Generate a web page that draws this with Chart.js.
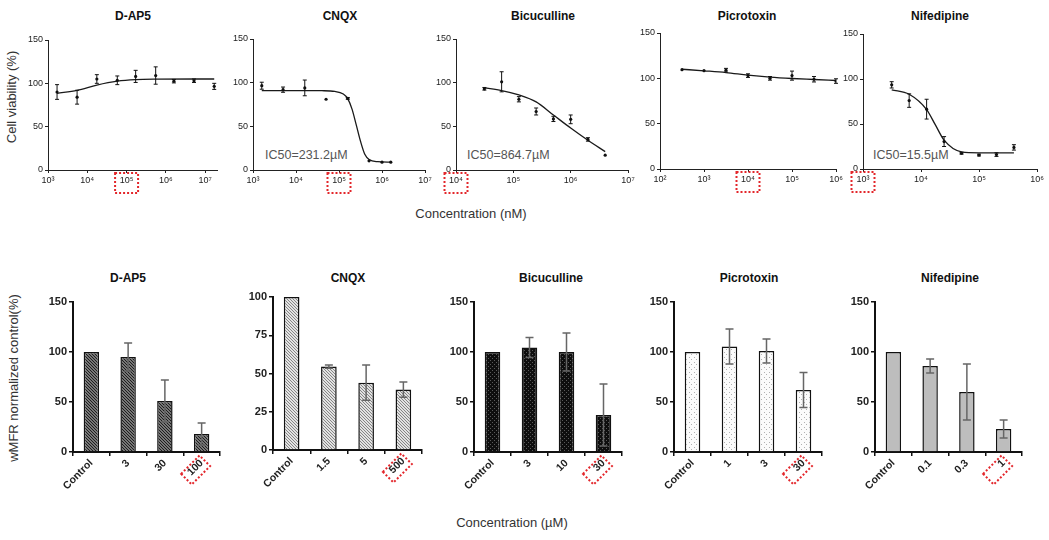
<!DOCTYPE html>
<html lang="en">
<head>
<meta charset="UTF-8">
<title>Cell viability and wMFR</title>
<script src="https://cdn.jsdelivr.net/npm/chart.js"></script>
<style>
  body { margin: 0; background: #fff; width: 1049px; height: 540px; overflow: hidden; position: relative;
         font-family: Arial, "Liberation Sans", sans-serif; }
  canvas { position: absolute; }
  .lbl { position: absolute; transform: translate(-50%, -50%); white-space: nowrap; color: #111; }
  .ttl { font-weight: bold; font-size: 12px; }
  .ax { font-size: 13px; color: #333; }
  .rot { transform: translate(-50%, -50%) rotate(-90deg); }
  .ic { position: absolute; transform: translateY(-50%); font-size: 12.5px; color: #555; white-space: nowrap; }
</style>
</head>
<body>
<!-- titles -->
<div class="lbl ttl" style="left:133px;top:16px">D-AP5</div>
<div class="lbl ttl" style="left:340px;top:16px">CNQX</div>
<div class="lbl ttl" style="left:543px;top:16px">Bicuculline</div>
<div class="lbl ttl" style="left:747px;top:16px">Picrotoxin</div>
<div class="lbl ttl" style="left:940px;top:16px">Nifedipine</div>
<div class="lbl ttl" style="left:128px;top:278px">D-AP5</div>
<div class="lbl ttl" style="left:348px;top:278px">CNQX</div>
<div class="lbl ttl" style="left:551px;top:278px">Bicuculline</div>
<div class="lbl ttl" style="left:749px;top:278px">Picrotoxin</div>
<div class="lbl ttl" style="left:950px;top:278px">Nifedipine</div>
<!-- axis titles -->
<div class="lbl ax rot" style="left:11px;top:97px">Cell viability (%)</div>
<div class="lbl ax" style="left:471px;top:213px">Concentration (nM)</div>
<div class="lbl ax rot" style="left:13px;top:378px">wMFR normalized control(%)</div>
<div class="lbl ax" style="left:512px;top:522px">Concentration (µM)</div>
<!-- IC50 -->
<div class="ic" style="left:265px;top:155px">IC50=231.2µM</div>
<div class="ic" style="left:467px;top:155px">IC50=864.7µM</div>
<div class="ic" style="left:873px;top:155px">IC50=15.5µM</div>

<script>
// ---- top row: cell viability vs concentration (nM) ----
const dap5Conc = [1700, 5500, 17500, 58000, 170000, 550000, 1600000, 5200000, 17000000];
const dap5Viab = [90, 84, 105, 103.5, 108, 109, 102.5, 103, 96.5];
const dap5Err = [8.5, 8, 5, 5, 7, 10, 2, 2, 3.5];
const dap5FitX = [1700, 5500, 17500, 58000, 170000, 550000, 17000000];
const dap5FitY = [88.5, 92, 98, 102.5, 104.3, 104.8, 105];

const cnqxConc = [1600, 5000, 16000, 50000, 160000, 500000, 1000000, 1600000];
const cnqxViab = [96.5, 92, 94, 81, 82, 10.5, 9, 9];
const cnqxErr = [4, 3, 9, 0, 1, 0, 0, 0];
const cnqxFitX = [1600, 10000, 40000, 80000, 126000, 158000, 200000, 251000, 316000, 398000, 501000, 794000, 1600000];
const cnqxFitY = [91, 91, 90.8, 90, 87, 82, 70, 52, 33, 18, 12, 9.5, 9];

const bicConc = [31250, 62500, 125000, 250000, 500000, 1000000, 2000000, 4000000];
const bicViab = [93, 101, 81, 67, 58.5, 58, 35, 17];
const bicErr = [1.5, 11.5, 3, 4, 3, 5, 2, 0];
const bicFitY = [94, 91, 86, 78, 63, 48, 34, 21];

const picConc = [316, 1000, 3160, 10000, 31600, 100000, 316000, 1000000];
const picViab = [109.5, 108.5, 109, 103, 100, 103, 99, 97];
const picErr = [0, 0, 2, 2, 2, 5, 3, 2.5];
const picFitY = [110, 108.3, 106.4, 103.5, 101.3, 99.8, 98.7, 97.6];

const nifConc = [3125, 6250, 12500, 25000, 50000, 100000, 200000, 400000];
const nifViab = [93.5, 76, 66.5, 30.5, 17.5, 15.5, 16, 24];
const nifErr = [3.5, 7.5, 11, 5.5, 1, 1, 2, 3];
const nifFitX = [3125, 6250, 12500, 17700, 25000, 50000, 100000, 200000, 400000];
const nifFitY = [88, 83, 66, 49, 32, 19, 18, 18, 18];

const viabTicks = [0, 50, 100, 150];

// ---- bottom row: wMFR normalized to control (%) vs concentration (µM) ----
const dap5Doses = ['Control', '3', '30', '100'];
const dap5Mfr = [100, 95, 51, 18];
const dap5MfrErr = [0, 14, 21, 11];

const cnqxDoses = ['Control', '1.5', '5', '500'];
const cnqxMfr = [100, 54.5, 44, 39.5];
const cnqxMfrErr = [0, 1, 11.5, 5];

const bicDoses = ['Control', '3', '10', '30'];
const bicMfr = [100, 104.5, 100, 37];
const bicMfrErr = [0, 10, 19, 31];

const picDoses = ['Control', '1', '3', '30'];
const picMfr = [100, 105.5, 101, 62];
const picMfrErr = [0, 17.5, 12, 17.5];

const nifDoses = ['Control', '0.1', '0.3', '1'];
const nifMfr = [100, 86, 60, 23];
const nifMfrErr = [0, 7, 28, 9];

Chart.defaults.font.family = 'Arial, "Liberation Sans", sans-serif';

const sup = { 2: '²', 3: '³', 4: '⁴', 5: '⁵', 6: '⁶', 7: '⁷' };

// error bars taken from dataset.errs
Chart.register({
  id: 'errBars',
  afterDatasetsDraw(chart, args, o) {
    const ds = chart.data.datasets[0];
    if (!ds.errs) return;
    const ctx = chart.ctx, ys = chart.scales.y, meta = chart.getDatasetMeta(0);
    ctx.save();
    ctx.strokeStyle = o.color || '#111';
    ctx.lineWidth = o.width || 1;
    meta.data.forEach((el, i) => {
      const e = ds.errs[i];
      if (!e) return;
      const v = typeof ds.data[i] === 'object' ? ds.data[i].y : ds.data[i];
      const y1 = ys.getPixelForValue(v + e), y2 = ys.getPixelForValue(v - e);
      const c = o.cap || 2;
      ctx.beginPath();
      ctx.moveTo(el.x, y1); ctx.lineTo(el.x, y2);
      ctx.moveTo(el.x - c, y1); ctx.lineTo(el.x + c, y1);
      ctx.moveTo(el.x - c, y2); ctx.lineTo(el.x + c, y2);
      ctx.stroke();
    });
    ctx.restore();
  }
});

// red dotted box round one tick label
Chart.register({
  id: 'markBox',
  afterDraw(chart, args, o) {
    if (o.at === undefined) return;
    const ctx = chart.ctx, b = chart.chartArea.bottom;
    const x = chart.scales.x.getPixelForValue(o.at);
    ctx.save();
    ctx.strokeStyle = '#e3262b';
    ctx.lineWidth = 2;
    ctx.setLineDash([2, 2]);
    if (o.kind === 'rect') {
      ctx.strokeRect(x - 11.5, b + 3, 23, 20);
    } else {
      ctx.translate(x - 6, b + 18);
      ctx.rotate(-Math.PI / 4);
      ctx.strokeRect(-13, -7.5, 26, 15);
    }
    ctx.restore();
  }
});

function makeCanvas(L, T, R, B, W, H, padT, padR) {
  const cv = document.createElement('canvas');
  cv.width = (R - L) + W + padR;
  cv.height = (B - T) + padT + H;
  cv.style.left = (L - W) + 'px';
  cv.style.top = (T - padT) + 'px';
  document.body.appendChild(cv);
  return cv;
}

function topChart(lay, conc, viab, err, fitX, fitY, exps, markAt) {
  const W = 34, H = 28, padT = 10, padR = 14;
  const cv = makeCanvas(lay.L, lay.T, lay.R, lay.B, W, H, padT, padR);
  new Chart(cv, {
    type: 'scatter',
    data: {
      datasets: [
        { data: conc.map((c, i) => ({ x: c, y: viab[i] })), errs: err,
          pointRadius: 1.6, pointBackgroundColor: '#111', pointBorderWidth: 0 },
        { data: fitX.map((c, i) => ({ x: c, y: fitY[i] })), showLine: true,
          borderColor: '#1a1a1a', borderWidth: 1.3, pointRadius: 0, cubicInterpolationMode: 'monotone' }
      ]
    },
    options: {
      responsive: false, animation: false, events: [],
      layout: { padding: { top: padT, right: padR, left: 0, bottom: 0 } },
      plugins: {
        legend: { display: false }, tooltip: { enabled: false },
        errBars: { color: '#111', width: 1, cap: 2 },
        markBox: { at: markAt, kind: 'rect' }
      },
      scales: {
        x: {
          type: 'logarithmic', min: lay.min, max: lay.max,
          afterBuildTicks: s => { s.ticks = exps.map(e => ({ value: Math.pow(10, e) })); },
          afterFit: s => { s.height = H; },
          ticks: { font: { size: 9 }, color: '#222', padding: 2, maxRotation: 0, autoSkip: false,
                   callback: v => '10' + sup[Math.round(Math.log10(v))] },
          grid: { drawOnChartArea: false, tickLength: 3, color: '#222' },
          border: { color: '#222', width: 1 }
        },
        y: {
          min: 0, max: 150,
          afterBuildTicks: s => { s.ticks = viabTicks.map(v => ({ value: v })); },
          afterFit: s => { s.width = W; },
          ticks: { font: { size: 9 }, color: '#222', padding: 2 },
          grid: { drawOnChartArea: false, tickLength: 3, color: '#222' },
          border: { color: '#222', width: 1 }
        }
      }
    }
  });
}

function hatch(bg, fg, s) {
  const c = document.createElement('canvas');
  c.width = c.height = s;
  const g = c.getContext('2d');
  g.fillStyle = bg; g.fillRect(0, 0, s, s);
  g.strokeStyle = fg; g.lineWidth = 1;
  g.beginPath();
  for (const k of [-s, 0, s]) { g.moveTo(k, 0); g.lineTo(k + s, s); }
  g.stroke();
  return g.createPattern(c, 'repeat');
}

function dots(bg, fg, s) {
  const c = document.createElement('canvas');
  c.width = c.height = s;
  const g = c.getContext('2d');
  g.fillStyle = bg; g.fillRect(0, 0, s, s);
  g.fillStyle = fg;
  g.fillRect(0, 0, 1, 1);
  g.fillRect(Math.floor(s / 2), Math.floor(s / 2), 1, 1);
  return g.createPattern(c, 'repeat');
}

function barChart(lay, labels, vals, errs, fill, yMax, yStep, markIdx) {
  const W = 40, H = 52, padT = 10, padR = 12;
  const cv = makeCanvas(lay.L, lay.T, lay.R, lay.B, W, H, padT, padR);
  new Chart(cv, {
    type: 'bar',
    data: {
      labels: labels,
      datasets: [{ data: vals, errs: errs, backgroundColor: fill, borderColor: '#111', borderWidth: 1.5,
                   barPercentage: 0.42, categoryPercentage: 1 }]
    },
    options: {
      responsive: false, animation: false, events: [],
      layout: { padding: { top: padT, right: padR, left: 0, bottom: 0 } },
      plugins: {
        legend: { display: false }, tooltip: { enabled: false },
        errBars: { color: '#666', width: 1.5, cap: 4 },
        markBox: { at: markIdx, kind: 'diamond' }
      },
      scales: {
        x: {
          afterFit: s => { s.height = H; },
          ticks: { font: { size: 10.5, weight: 'bold' }, color: '#222', minRotation: 45, maxRotation: 45,
                   autoSkip: false, padding: 1 },
          grid: { offset: true, drawOnChartArea: false, tickLength: 4, color: '#111', lineWidth: 1.5 },
          border: { color: '#111', width: 2 }
        },
        y: {
          min: 0, max: yMax,
          afterFit: s => { s.width = W; },
          ticks: { stepSize: yStep, font: { size: 11, weight: 'bold' }, color: '#222', padding: 2 },
          grid: { drawOnChartArea: false, tickLength: 4, color: '#111', lineWidth: 1.5 },
          border: { color: '#111', width: 2 }
        }
      }
    }
  });
}

topChart({ L: 48, T: 40, R: 217, B: 170, min: 1e3, max: 2e7 }, dap5Conc, dap5Viab, dap5Err, dap5FitX, dap5FitY, [3, 4, 5, 6, 7], 1e5);
topChart({ L: 253, T: 39, R: 425, B: 170, min: 1e3, max: 1e7 }, cnqxConc, cnqxViab, cnqxErr, cnqxFitX, cnqxFitY, [3, 4, 5, 6, 7], 1e5);
topChart({ L: 456, T: 39, R: 628, B: 170, min: 1e4, max: 1e7 }, bicConc, bicViab, bicErr, bicConc, bicFitY, [4, 5, 6, 7], 1e4);
topChart({ L: 660, T: 33, R: 836, B: 169, min: 1e2, max: 1e6 }, picConc, picViab, picErr, picConc, picFitY, [2, 3, 4, 5, 6], 1e4);
topChart({ L: 863, T: 34, R: 1037, B: 169, min: 1e3, max: 1e6 }, nifConc, nifViab, nifErr, nifFitX, nifFitY, [3, 4, 5, 6], 1e3);

barChart({ L: 73, T: 302, R: 220, B: 452 }, dap5Doses, dap5Mfr, dap5MfrErr, hatch('#777777', '#1e1e1e', 3), 150, 50, 3);
barChart({ L: 273, T: 297, R: 422, B: 450 }, cnqxDoses, cnqxMfr, cnqxMfrErr, hatch('#e2e2e2', '#858585', 3), 100, 25, 3);
barChart({ L: 474, T: 302, R: 622, B: 452 }, bicDoses, bicMfr, bicMfrErr, dots('#0e0e0e', '#5a5a5a', 4), 150, 50, 3);
barChart({ L: 674, T: 302, R: 822, B: 452 }, picDoses, picMfr, picMfrErr, dots('#fbfbfb', '#b0b0b0', 5), 150, 50, 3);
barChart({ L: 875, T: 302, R: 1022, B: 452 }, nifDoses, nifMfr, nifMfrErr, '#bdbdbd', 150, 50, 3);
</script>
</body>
</html>
